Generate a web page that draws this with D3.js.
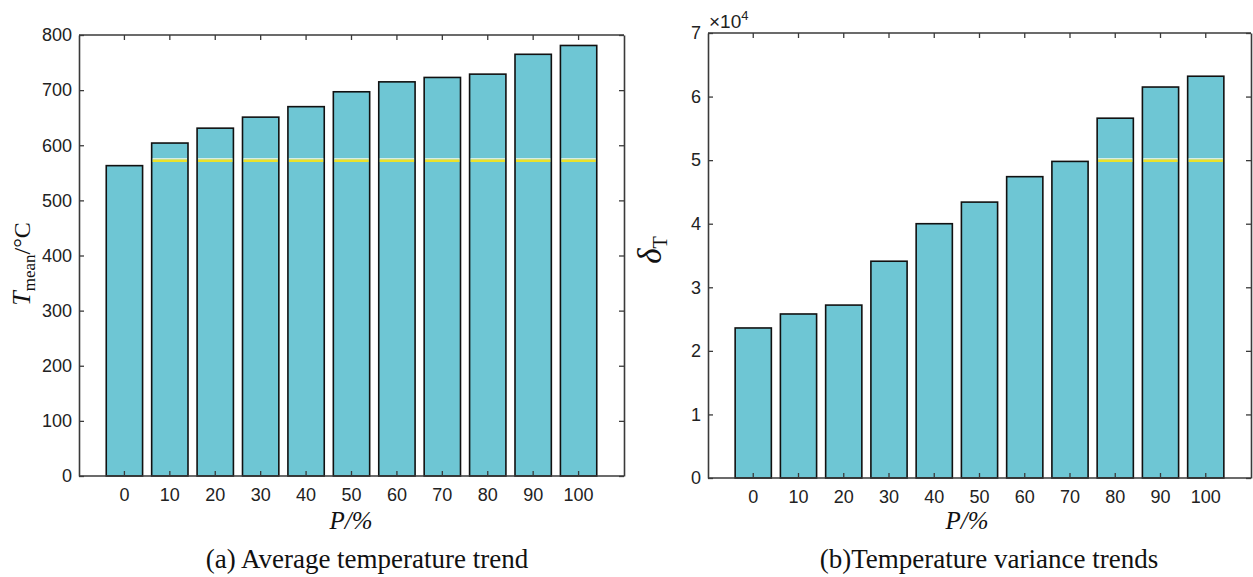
<!DOCTYPE html>
<html>
<head>
<meta charset="utf-8">
<script src="https://cdn.jsdelivr.net/npm/d3@7"></script>
<style>
    body { margin: 0; background: #fff; }
    svg { display: block; }
</style>
</head>
<body>
<div id="chart"></div>
<script>
// data
var pLabels = ["0", "10", "20", "30", "40", "50", "60", "70", "80", "90", "100"];
var tMean = [563, 604, 631, 651, 670, 697, 715, 723, 729, 765, 781];
var tMeanLine = 573;
var tMeanTicks = [0, 100, 200, 300, 400, 500, 600, 700, 800];
var tVar = [23600, 25800, 27200, 34100, 40000, 43400, 47400, 49800, 56600, 61500, 63200];
var tVarLine = 50000;
var tVarTicks = [0, 10000, 20000, 30000, 40000, 50000, 60000, 70000];

function init() {
    var w = 1253, h = 577;
    var svg = d3.select("#chart").append("svg")
        .attr("width", w)
        .attr("height", h);

    var axisColor = "#3a3a3a";
    var barFill = "#6ec6d4";

    function panel(opt) {
        var g = svg.append("g");

        var x = d3.scaleBand()
            .domain(pLabels)
            .range([opt.left, opt.right])
            .paddingInner(0.2)
            .paddingOuter(0.6);

        var y = d3.scaleLinear()
            .domain([0, opt.max])
            .range([opt.bottom, opt.top]);

        var rows = pLabels.map(function(p, i) { return { p: p, v: opt.values[i] }; });

        // bars
        g.selectAll(".bar")
            .data(rows)
            .enter()
            .append("rect")
            .attr("class", "bar")
            .attr("x", d => x(d.p))
            .attr("y", d => y(d.v))
            .attr("width", x.bandwidth())
            .attr("height", d => y(0) - y(d.v))
            .attr("fill", barFill)
            .attr("stroke", "#111")
            .attr("stroke-width", 1.6);

        // threshold line inside bars that pass it
        var over = rows.filter(d => d.v > opt.line);
        g.selectAll(".hl")
            .data(over)
            .enter()
            .append("line")
            .attr("x1", d => x(d.p) + 1)
            .attr("x2", d => x(d.p) + x.bandwidth() - 1)
            .attr("y1", y(opt.line) - 1.2)
            .attr("y2", y(opt.line) - 1.2)
            .attr("stroke", "#fbfbe8")
            .attr("stroke-width", 1.2);
        g.selectAll(".yl")
            .data(over)
            .enter()
            .append("line")
            .attr("x1", d => x(d.p) + 1)
            .attr("x2", d => x(d.p) + x.bandwidth() - 1)
            .attr("y1", y(opt.line) + 0.6)
            .attr("y2", y(opt.line) + 0.6)
            .attr("stroke", "#ece22a")
            .attr("stroke-width", 2.4);

        // axes, ticks pointing inward like MATLAB
        var bottom = g.append("g")
            .attr("transform", `translate(0,${opt.bottom})`)
            .call(d3.axisBottom(x).tickSizeInner(-5).tickSizeOuter(0).tickPadding(12));
        var top = g.append("g")
            .attr("transform", `translate(0,${opt.top})`)
            .call(d3.axisTop(x).tickSizeInner(-5).tickSizeOuter(0).tickFormat(""));
        var left = g.append("g")
            .attr("transform", `translate(${opt.left},0)`)
            .call(d3.axisLeft(y).tickValues(opt.ticks).tickSizeInner(-5).tickSizeOuter(0)
                .tickPadding(7).tickFormat(opt.fmt));
        var right = g.append("g")
            .attr("transform", `translate(${opt.right},0)`)
            .call(d3.axisRight(y).tickValues(opt.ticks).tickSizeInner(-5).tickSizeOuter(0).tickFormat(""));

        [bottom, top, left, right].forEach(function(a) {
            a.select(".domain").attr("stroke", axisColor).attr("stroke-width", 1.6);
            a.selectAll(".tick line").attr("stroke", axisColor).attr("stroke-width", 1.3);
            a.selectAll("text")
                .attr("fill", "#222")
                .style("font-family", "'Liberation Sans', Arial, sans-serif")
                .style("font-size", "18px");
        });
        // the x-axis line runs the full width of the box
        bottom.select(".domain").attr("d", `M${opt.left},0H${opt.right}`);
        top.select(".domain").attr("d", `M${opt.left},0H${opt.right}`);

        // x label P/%
        g.append("text")
            .attr("x", opt.xlabelX)
            .attr("y", 529)
            .attr("text-anchor", "middle")
            .style("font-family", "'Liberation Serif', 'Times New Roman', serif")
            .style("font-style", "italic")
            .style("font-size", "25px")
            .attr("fill", "#111")
            .text("P/%");

        // caption
        g.append("text")
            .attr("x", opt.captionX)
            .attr("y", 568)
            .attr("text-anchor", "middle")
            .style("font-family", "'Liberation Serif', 'Times New Roman', serif")
            .style("font-size", "27px")
            .attr("fill", "#111")
            .text(opt.caption);

        return g;
    }

    var a = panel({
        left: 79, right: 624, top: 35, bottom: 476,
        max: 800, values: tMean, line: tMeanLine, ticks: tMeanTicks,
        fmt: d3.format("d"),
        xlabelX: 351, captionX: 367,
        caption: "(a) Average temperature trend"
    });

    var b = panel({
        left: 708, right: 1251, top: 33, bottom: 478,
        max: 70000, values: tVar, line: tVarLine, ticks: tVarTicks,
        fmt: d => d / 10000,
        xlabelX: 967, captionX: 989,
        caption: "(b)Temperature variance trends"
    });

    // y label (a): T_mean/°C
    var ya = a.append("text")
        .attr("transform", "translate(30,264) rotate(-90)")
        .attr("text-anchor", "middle")
        .style("font-family", "'Liberation Serif', 'Times New Roman', serif")
        .attr("fill", "#111");
    ya.append("tspan").style("font-style", "italic").style("font-size", "26px").text("T");
    ya.append("tspan").style("font-size", "17px").attr("dy", 5).text("mean");
    ya.append("tspan").style("font-size", "24px").attr("dy", -5).text("/°C");

    // y label (b): delta_T
    var yb = b.append("text")
        .attr("transform", "translate(661,250) rotate(-90)")
        .attr("text-anchor", "middle")
        .style("font-family", "'Liberation Serif', 'Times New Roman', serif")
        .attr("fill", "#111");
    yb.append("tspan").style("font-style", "italic").style("font-size", "33px").text("δ");
    yb.append("tspan").style("font-size", "20px").attr("dy", 6).text("T");

    // exponent note above (b)
    var ex = b.append("text")
        .attr("x", 709)
        .attr("y", 28)
        .style("font-family", "'Liberation Sans', Arial, sans-serif")
        .attr("fill", "#222");
    ex.append("tspan").style("font-size", "19px").text("×10");
    ex.append("tspan").style("font-size", "13px").attr("dy", -8).text("4");
}

window.onload = init;
</script>
</body>
</html>
